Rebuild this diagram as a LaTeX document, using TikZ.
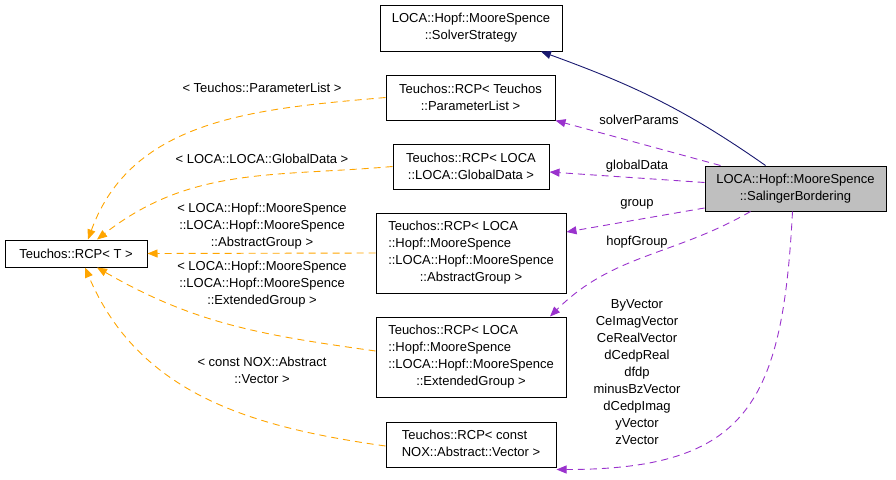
\documentclass[tikz,border=0pt]{standalone}
\usepackage{fontspec}
\setmainfont{Liberation Sans}
\usetikzlibrary{arrows.meta}

\definecolor{usedby}{HTML}{9A32CD}
\definecolor{tmplarg}{HTML}{FFA500}
\definecolor{inherit}{HTML}{191970}
\definecolor{focus}{HTML}{BFBFBF}

\begin{document}
\begin{tikzpicture}[x=1pt, y=-1pt,
    font=\fontsize{13}{17}\selectfont,
    >={Triangle[length=10pt,width=8pt]}]

      \useasboundingbox (0,0) rectangle (896,479);

      \begin{scope}[every node/.style={draw, line width=1pt, align=center, inner sep=1pt, fill=white}]
        \node[minimum width=142pt, minimum height=27pt] (rcpT) at (76,253.5) {Teuchos::RCP< T >};
        \node[minimum width=182pt, minimum height=46pt] (strategy) at (471,28) {LOCA::Hopf::MooreSpence\\::SolverStrategy};
        \node[minimum width=169pt, minimum height=45pt] (rcpParams) at (470.5,97.5) {Teuchos::RCP< Teuchos\\::ParameterList >};
        \node[minimum width=156pt, minimum height=45pt] (rcpGlobal) at (471,166.5) {Teuchos::RCP< LOCA\\::LOCA::GlobalData >};
        \node[minimum width=190pt, minimum height=80pt] (rcpAbstract) at (471,253) {\begin{tabular}{@{}l@{}}Teuchos::RCP< LOCA\\::Hopf::MooreSpence\\::LOCA::Hopf::MooreSpence\\\multicolumn{1}{@{}c@{}}{::AbstractGroup >}\end{tabular}};
        \node[minimum width=190pt, minimum height=80pt] (rcpExtended) at (471,357) {\begin{tabular}{@{}l@{}}Teuchos::RCP< LOCA\\::Hopf::MooreSpence\\::LOCA::Hopf::MooreSpence\\\multicolumn{1}{@{}c@{}}{::ExtendedGroup >}\end{tabular}};
        \node[minimum width=170pt, minimum height=45pt] (rcpVector) at (471,444.5) {\begin{tabular}{@{}l@{}}Teuchos::RCP< const\\\multicolumn{1}{@{}c@{}}{NOX::Abstract::Vector >}\end{tabular}};
        \node[fill=focus, minimum width=181pt, minimum height=45pt] (bordering) at (795.5,188.5) {LOCA::Hopf::MooreSpence\\::SalingerBordering};
      \end{scope}

      \begin{scope}[every node/.style={align=center, inner sep=0pt}]
        \node (lblParams)   at (262,88)    {< Teuchos::ParameterList >};
        \node (lblGlobal)   at (262,159)   {< LOCA::LOCA::GlobalData >};
        \node (lblAbstract) at (262,226)   {< LOCA::Hopf::MooreSpence\\::LOCA::Hopf::MooreSpence\\::AbstractGroup >};
        \node (lblExtended) at (262,284)   {< LOCA::Hopf::MooreSpence\\::LOCA::Hopf::MooreSpence\\::ExtendedGroup >};
        \node (lblVector)   at (262,370.5) {< const NOX::Abstract\\::Vector >};
        \node (lblSolver)   at (639,120)   {solverParams};
        \node (lblData)     at (637,166)   {globalData};
        \node (lblGroup)    at (637,204)   {group};
        \node (lblHopf)     at (637,242)   {hopfGroup};
        \node (lblMembers)  at (637,372)   {ByVector\\CeImagVector\\CeRealVector\\dCedpReal\\dfdp\\minusBzVector\\dCedpImag\\yVector\\zVector};
      \end{scope}

      \begin{scope}[every edge/.style={draw=inherit, line width=0.9pt, ->}]
        \path ([xshift=-30pt]bordering.north) edge[out=145, in=-20] ([xshift=70pt]strategy.south);
      \end{scope}

      \begin{scope}[every edge/.style={draw=usedby, line width=0.9pt, dash pattern=on 7pt off 5pt, ->}]
        \path ([xshift=-75pt]bordering.north) edge (rcpParams.south east);
        \path ([yshift=6pt]bordering.west) edge ([yshift=-5.5pt]rcpGlobal.east);
        \path ([yshift=-19.5pt]bordering.west) edge ([yshift=21pt]rcpAbstract.east);
        \path ([xshift=-45pt]bordering.south) edge[out=-150, in=45] ([xshift=79pt]rcpExtended.north);
        \path ([xshift=-3pt]bordering.south) edge[out=-93, in=0, looseness=1.4] ([yshift=-2pt]rcpVector.south east);
      \end{scope}

      \begin{scope}[every edge/.style={draw=tmplarg, line width=0.9pt, dash pattern=on 7pt off 5pt, ->}]
        \path (rcpParams.west) edge[out=185, in=70] ([xshift=12pt]rcpT.north);
        \path (rcpGlobal.west) edge[out=185, in=38] ([xshift=21pt]rcpT.north);
        \path (rcpAbstract.west) edge (rcpT.east);
        \path ([yshift=6pt]rcpExtended.west) edge[out=172, in=-30] ([xshift=21pt]rcpT.south);
        \path ([yshift=-1.5pt]rcpVector.west) edge[out=172, in=-67] ([xshift=9pt]rcpT.south);
      \end{scope}

    \end{tikzpicture}
\end{document}
